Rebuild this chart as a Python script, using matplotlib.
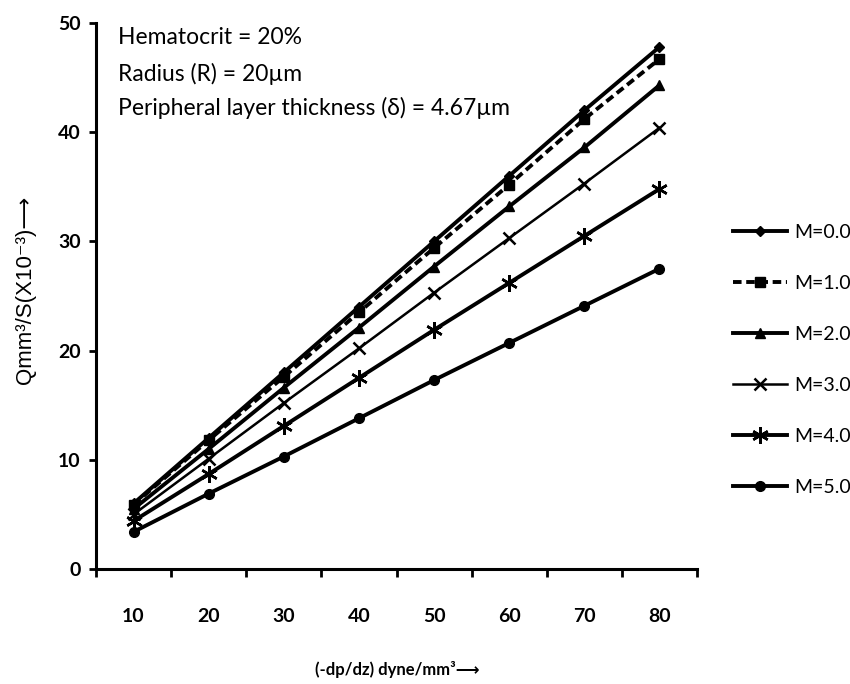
import matplotlib
matplotlib.use("Agg")
import matplotlib.pyplot as plt

categories = ["10", "20", "30", "40", "50", "60", "70", "80"]
m0 = [6.0, 12.0, 18.0, 24.0, 30.0, 36.0, 42.0, 47.8]
m1 = [5.9, 11.8, 17.6, 23.5, 29.4, 35.2, 41.2, 46.7]
m2 = [5.5, 11.0, 16.6, 22.1, 27.7, 33.2, 38.6, 44.3]
m3 = [5.0, 10.1, 15.2, 20.2, 25.3, 30.3, 35.3, 40.4]
m4 = [4.4, 8.7, 13.1, 17.5, 21.9, 26.2, 30.5, 34.8]
m5 = [3.4, 6.9, 10.3, 13.8, 17.3, 20.7, 24.1, 27.5]
labels = ["M=0.0", "M=1.0", "M=2.0", "M=3.0", "M=4.0", "M=5.0"]
yticks = [0, 10, 20, 30, 40, 50]

FONT = ["Lato", "DejaVu Sans"]

fig = plt.figure(figsize=(8.5, 6.84), dpi=100)
ax = fig.add_axes([96/850, 1-569/684, (697-96)/850, (569-23)/684])

x = list(range(len(categories)))
series = [m0, m1, m2, m3, m4, m5]
styles = [
    dict(marker="D", ms=5, lw=2.8, ls="-"),
    dict(marker="s", ms=7, lw=2.8, ls=(0, (2.2, 1.2))),
    dict(marker="^", ms=7, lw=2.8, ls="-"),
    dict(marker="x", ms=9, lw=1.8, ls="-", mew=1.8),
    dict(marker=(6, 2, 0), ms=12, lw=2.8, ls="-", mew=1.8),
    dict(marker="o", ms=7, lw=2.8, ls="-"),
]
for s, lab, st in zip(series, labels, styles):
    ax.plot(x, s, color="black", label=lab, **st)

ax.set_xlim(-0.5, len(categories) - 0.5)
ax.set_ylim(0, 50)
ax.spines["top"].set_visible(False)
ax.spines["right"].set_visible(False)
ax.spines["left"].set_linewidth(2.2)
ax.spines["bottom"].set_linewidth(2.2)

ax.set_xticks([i - 0.5 for i in range(len(categories) + 1)])
ax.set_xticklabels([])
ax.set_xticks(x, minor=True)
ax.set_xticklabels(categories, minor=True, fontsize=14, fontweight="bold", family=FONT)
ax.tick_params(axis="x", which="major", direction="out", length=6, width=2)
ax.tick_params(axis="x", which="minor", length=0, pad=28)

ax.set_yticks(yticks)
ax.set_yticklabels([str(v) for v in yticks], fontsize=14, fontweight="bold", family=FONT)
ax.tick_params(axis="y", direction="out", length=5, width=2, pad=6)

ax.text(118, 684-38, "Hematocrit = 20%", transform=None, fontsize=16.5, family=FONT, va="center")
ax.text(118, 684-74, "Radius (R) = 20\u00b5m", transform=None, fontsize=16.5, family=FONT, va="center")
ax.text(118, 684-108, "Peripheral layer thickness (\u03b4) = 4.67\u00b5m", transform=None,
        fontsize=16.5, family=FONT, va="center")

fig.text(26/850, 1-290/684, "Qmm\u00b3/S(X10\u207b\u00b3)\u27f6", rotation=90, fontsize=16,
         family=["Liberation Sans", "DejaVu Sans"], ha="center", va="center")
fig.text(397/850, 1-670/684, "(-dp/dz) dyne/mm\u00b3\u27f6", fontsize=12, fontweight="bold",
         family=FONT, ha="center", va="center")

leg = fig.legend(loc="center left", bbox_to_anchor=(715/850, 1-360/684), frameon=False,
                 handlelength=2.8, handletextpad=0.35, labelspacing=1.75,
                 prop=dict(family=FONT, size=14))

fig.savefig("out.png", dpi=100)
